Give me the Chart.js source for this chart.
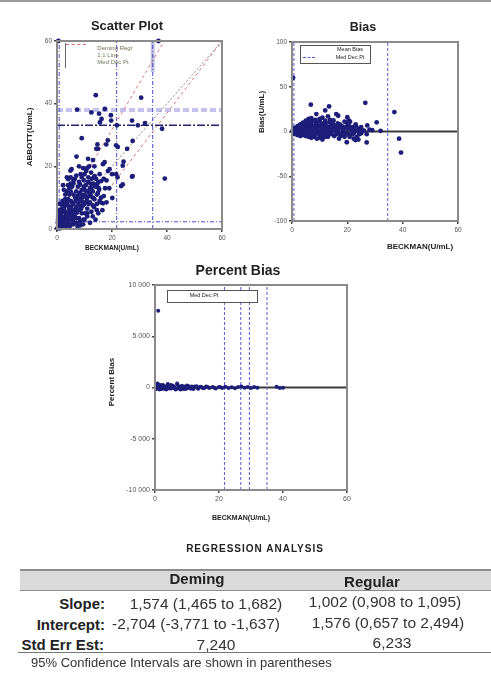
<!DOCTYPE html>
<html><head><meta charset="utf-8">
<script src="https://cdn.jsdelivr.net/npm/chart.js@4/dist/chart.umd.min.js"></script>
<style>
html,body{margin:0;padding:0;background:#fff;width:491px;height:679px;overflow:hidden;font-family:"Liberation Sans",Arial,sans-serif;color:#222;}
#root{position:relative;width:491px;height:679px;}
canvas{position:absolute;}
.c{position:absolute;transform:translate(-50%,-50%);white-space:nowrap;line-height:1;}
.r{position:absolute;transform:translate(-100%,-50%);white-space:nowrap;line-height:1;}
.rot{position:absolute;transform:translate(-50%,-50%) rotate(-90deg);white-space:nowrap;line-height:1;}
.hl{position:absolute;height:0;}
</style></head>
<body><div id="root">
<div class="hl" style="left:0;top:0;width:491px;border-top:2px solid #9a9a9a"></div>

<canvas id="cScatter" width="250" height="260" style="left:0;top:0;width:250px;height:260px"></canvas>
<canvas id="cBias" width="241" height="260" style="left:250px;top:0;width:241px;height:260px"></canvas>
<canvas id="cPct" width="260" height="250" style="left:100px;top:275px;width:260px;height:250px"></canvas>

<div class="c" style="left:127px;top:25px;font-size:13px;font-weight:bold">Scatter Plot</div>
<div class="c" style="left:363px;top:27px;font-size:12.5px;font-weight:bold">Bias</div>
<div class="c" style="left:238px;top:270px;font-size:14px;font-weight:bold">Percent Bias</div>

<div class="rot" style="left:30px;top:137px;font-size:8px;font-weight:bold">ABBOTT(U/mL)</div>
<div class="c" style="left:112px;top:248px;font-size:6.5px;font-weight:bold">BECKMAN(U/mL)</div>
<div class="rot" style="left:262px;top:112px;font-size:8px;font-weight:bold">Bias(U/mL)</div>
<div class="c" style="left:420px;top:247px;font-size:8px;font-weight:bold">BECKMAN(U/mL)</div>
<div class="rot" style="left:112px;top:382px;font-size:8px;font-weight:bold">Percent Bias</div>
<div class="c" style="left:241px;top:517px;font-size:7px;font-weight:bold">BECKMAN(U/mL)</div>

<!-- scatter legend -->
<div class="hl" style="left:66px;top:44px;width:20px;border-top:1px dashed #e06a6a"></div>
<div style="position:absolute;left:65px;top:43px;width:0;height:25px;border-left:1px solid #666"></div>
<div class="c" style="left:115px;top:48px;font-size:6px;color:#7a6a55">Deming Regr</div>
<div class="c" style="left:108px;top:55px;font-size:6px;color:#7a7a55">1:1 Line</div>
<div class="c" style="left:113px;top:62px;font-size:6px;color:#6a7a55">Med Dec Pt</div>

<!-- bias legend -->
<div style="position:absolute;left:300px;top:45px;width:69px;height:17px;border:1px solid #555;background:#fff"></div>
<div class="c" style="left:350px;top:49.5px;font-size:5.5px">Mean Bias</div>
<div class="hl" style="left:303px;top:57px;width:12px;border-top:1px dashed #5a5ad0"></div>
<div class="c" style="left:350px;top:57.5px;font-size:5.5px">Med Dec Pt</div>

<!-- percent legend -->
<div style="position:absolute;left:167px;top:290px;width:89px;height:11px;border:1px solid #555;background:#fff"></div>
<div class="c" style="left:204px;top:296px;font-size:5.5px">Med Dec Pt</div>

<!-- table -->
<div class="c" style="left:255px;top:549px;font-size:10px;font-weight:bold;letter-spacing:1px">REGRESSION ANALYSIS</div>
<div style="position:absolute;left:20px;top:569px;width:471px;height:19px;background:#dadada;border-top:2px solid #8c8c8c;border-bottom:1px solid #8c8c8c"></div>
<div class="c" style="left:197px;top:578px;font-size:15px;font-weight:bold">Deming</div>
<div class="c" style="left:372px;top:581px;font-size:15px;font-weight:bold">Regular</div>
<div class="r" style="left:105px;top:603px;font-size:15px;font-weight:bold">Slope:</div>
<div class="r" style="left:105px;top:624px;font-size:15px;font-weight:bold">Intercept:</div>
<div class="r" style="left:104px;top:644px;font-size:15px;font-weight:bold">Std Err Est:</div>
<div class="c" style="left:206px;top:604px;font-size:15.5px;color:#333">1,574 (1,465 to 1,682)</div>
<div class="c" style="left:196px;top:624px;font-size:15.5px;color:#333">-2,704 (-3,771 to -1,637)</div>
<div class="c" style="left:216px;top:645px;font-size:15.5px;color:#333">7,240</div>
<div class="c" style="left:385px;top:602px;font-size:15.5px;color:#333">1,002 (0,908 to 1,095)</div>
<div class="c" style="left:388px;top:623px;font-size:15.5px;color:#333">1,576 (0,657 to 2,494)</div>
<div class="c" style="left:392px;top:643px;font-size:15.5px;color:#333">6,233</div>
<div class="hl" style="left:18px;top:652px;width:473px;border-top:1px solid #777"></div>
<div style="position:absolute;left:31px;top:656px;font-size:13px;color:#333;white-space:nowrap;line-height:14px">95% Confidence Intervals are shown in parentheses</div>
</div>

<script>
// ---------- DATA ----------
const xTicks = [0, 20, 40, 60];
const scatterTicks = [0, 20, 40, 60];
const biasTicks = [-100, -50, 0, 50, 100];
const pctTicks = [-10000, -5000, 0, 5000, 10000];

// Scatter: BECKMAN (x) vs ABBOTT (y), U/mL
const scatterBeckman = [0.3,0.5,0.8,1.0,1.2,1.5,1.8,2.0,2.2,2.5,2.8,3.0,3.2,3.5,3.8,4.0,4.2,4.5,4.8,5.0,5.2,5.5,5.8,6.0,6.2,6.5,6.8,7.0,7.2,7.5,7.8,8.0,8.2,8.5,8.8,9.0,9.2,9.5,9.8,10.0,10.2,10.5,10.8,11.0,11.3,11.5,12.0,12.3,12.6,13.0,13.3,13.6,14.0,14.5,15.0,15.3,0.5,1.0,1.5,2.0,2.5,3.0,3.5,4.0,4.5,5.0,5.5,6.0,6.5,7.0,3.0,2.0,1.0,0.5,4.0,2.5,5.0,8.0,9.0,10.0,1.2,2.4,3.6,4.8,6.0,7.2,8.4,9.6,11.0,12.5,13.5,0.2,0.6,0.9,1.4,1.7,2.1,2.6,3.3,3.9,4.3,4.9,5.6,6.4,7.4,8.6,9.4,10.6,11.8,12.8,14.2,15.5,0.4,1.1,16.0,17.5,18.0,15.8,
  10,11,12,13,14,14.5,13,12,11,10,9,8,7,6,5,4,3,2,9.5,8.5,7.5,15,15.5,14.5,13,12,11,10,9,8,7,6,5,4,3,2,1.5,1,0.5,0.8,1.3,2.3,3.4,4.4,5.4,6.6,7.6,8.4,9.8,11.4,12.2,13.4,14.6,15.2,6,5,4.5,3.5,3,2.5,2,1.5,0.5,1,0.3,12.4,10.6,3.6,2.2,17,16.5,18,17,19,
  0.5,36.9,14.1,7.3,12.5,15.3,16.2,17.4,19.6,19.7,15.6,21.8,30.6,27.3,29.4,32.0,38.2,39.2,9.0,14.7,14.9,17.9,18.5,22.1,25.5,27.5,24.2,27.3,23.9,20.1,7.1,13.1,11.7,9.5,8.6,4.9,16.7,18.5,20.0,22.0,14.3,11.3,8.0,11.0,13.6,17.3,19.1,21.5,23.9,27.5,23.3,5.3,4.1,13.7,16.1,12.5,14.9,16.7,21.5];
const scatterAbbott = [0.5,1.0,0.4,1.5,0.8,2.0,1.2,2.5,0.9,3.0,1.8,4.0,2.2,3.5,1.5,5.0,2.8,4.2,6.0,3.2,7.0,5.0,2.5,8.0,6.0,4.0,9.0,7.0,5.2,10.5,8.0,3.5,11.5,9.0,6.5,12.5,10.0,7.5,13.5,11.0,5.0,14.0,9.0,12.0,15.0,8.0,13.0,10.5,16.0,12.0,14.5,9.5,13.5,11.0,15.0,12.5,2.5,3.5,4.5,5.5,6.5,7.5,8.5,9.5,11.0,12.0,13.5,14.5,16.0,17.0,11.0,9.0,6.0,4.0,14.0,12.5,16.5,15.0,16.5,17.5,0.2,0.5,0.7,1.0,1.5,2.0,2.5,3.0,4.0,5.5,7.0,0.2,0.8,1.8,1.0,2.6,1.6,2.2,3.0,2.4,3.6,4.4,3.8,5.4,6.2,7.2,8.6,10.2,11.4,13.8,16.0,17.5,3.0,2.2,10.0,13.0,15.5,8.5,
  3,5,2,4,3,6,7.5,8.5,6.5,8,5,6,3.5,2,1.5,0.5,1,1.2,1.5,1.2,0.8,5,9,8,10,11,10,12.5,11,9.5,12,11,9,7.5,5.5,3.8,3,1,0.3,2,0.5,2.8,4.6,6.4,8.4,10,13.5,14.2,15.5,16.5,14.5,16.5,14.2,13,15.5,14.5,13,12,9.5,8,7,5.5,5,8,2,18,18.5,16.5,14,10.5,6,8.5,16,13,
  60,60,42.7,38.1,37.2,36.8,35.1,38.3,36.3,34.6,34.0,33.1,41.9,34.6,33.1,33.8,32.0,16.1,29.0,27.0,25.6,27.0,28.3,26.2,25.6,28.1,21.5,16.7,14.2,9.9,23.1,22.0,20.0,19.4,17.5,18.6,20.7,18.5,17.5,16.5,25.6,22.4,20.0,19.5,20.0,21.3,19.1,17.5,20.2,16.9,13.7,19.1,15.9,16.9,15.3,12.6,11.5,8.2,26.7];

// Reference lines on scatter plot (x,y end points)
const demingLine = [[0, 2], [39, 60]];
const secondRedLine = [[20, 14], [60, 60]];
const identityLine = [[0, 0], [60, 60]];
const medDecPtScatterX = [0.8, 21.7, 34.8];
const medDecPtScatterY = [2.3, 38.0];
const horizontalSolidY = 33.1;

// Bias: BECKMAN (x) vs Bias (U/mL)
const biasBeckman = [0.4,6.8,13.4,12,8.8,16,16.7,20,20.5,26.5,30.6,27.2,37,38.7,39.4,19.8,27,22.9,13,32,29,
  0.5,1,1.5,2,2.5,3,3.5,4,4.5,5,5.5,6,6.5,7,7.5,8,8.5,9,9.5,10,10.5,11,11.5,12,12.5,13,13.5,14,14.5,15,15.5,16,16.5,17,17.5,18,18.5,19,19.5,20,20.5,21,21.5,22,22.5,23,23.5,24,24.5,25,26,27,28,1,2,3,4,5,6,7,3,4,5,6,7,8,9,10,11,12,1.5,2.5,3.5,0.8,1.8,2.8,4.8,6.8,8.8,10.8,12.8,14.8,16.8,18.8,20.8,9,11,13,10,7,8,12,0.3,0.7,1.2,1.6,2.2,2.6,3.2,
  0.2,0.4,0.6,0.9,1.1,1.3,1.7,1.9,2.1,2.3,2.7,2.9,3.3,3.7,3.9,4.1,4.3,4.7,5.3,5.7,5.9,6.3,6.7,7.3,7.7,8.3,8.7,9.3,9.7,10.3,10.7,11.3,11.7,12.3,12.7,13.3,13.7,14.3,14.7,15.3,15.7,16.3,17.3,17.7,18.3,19.3,20.3,21.3,22.3,23.3,24.3,25.5,2,3,5,1,6,7,8,9,10,11,12,13,14,15,16,17,18,19,20,21,22,23,24,25];
const biasValue = [60,30,28,23.5,19.5,19.5,17.6,16,12.5,32,10.2,6.8,21.7,-8,-23.6,-12,-12.2,-9.5,-6,0.8,1.5,
  0.5,1.5,-0.5,2.5,0,3.5,-1,5,1,7,-2,9,2,11,-3,4,13,0,6,14,-4,8,2,12,-2,5,10,-1,7,12.5,3,-3,9,4,-5,6,1,11,-2,3,7,-4,1,5,-1,2,-6,0,3,-2,1,-3,2,4,6,8,10,12,14,15,-3,-4,-5,-6,-7,-6,-8,-7,-5,-6,3,4.5,6,-1,-2,-1.5,-2.5,-3.5,-2,-1,1,3,-1,-3,-6,10,15.5,17,11.5,8,12,9,1,2,-1,3,0,-2,1,
  0.3,-0.5,1,-1.2,2,-0.3,0.8,-1.5,1.2,-2.5,2,-0.8,1,-2,3,0,-1.5,2.5,0.5,4,-1,6,-2,3,5.5,-1,8,3,-3,5,9,-2,4,6,-4,2,13,-3,9,-5,6,1,8,-2,3,5,-3,4,-8,5,-3,1,-4,-5,-3,-3,4,1,-4,4,2,-9,0,-3,5,1,4,-8,-4,-6,9,11,-3,8,-9,5];

// Mean bias and decision points on bias plot
const meanBias = 0;
const medDecPtBiasX = [0.7, 34.6];

// Percent bias: BECKMAN (x) vs Percent Bias
const pctBeckman = [1,0.3,0.6,1,1.5,2,2.5,3,3.5,4,4.5,5,5.5,6,6.5,7,7.5,8,8.5,9,9.5,10,10.5,11,11.5,12,12.5,13,13.5,14,15,16,17,18,19,20,21,22,23,24,25,26,27,28,29,30,31,32,38,39,40,1.2,2.2,3.2,4.2,5.2,6.2,7.2,8.2,0.8,1.8,2.8,
  0.4,0.9,1.4,1.9,2.4,2.9,3.4,3.9,4.4,4.9,5.4,5.9,6.4,6.9,7.4,7.9,8.4,8.9,9.4,9.9,10.4,11.4,12.4,13.4,14.4,15.4,16.5,18.5,20.5];
const pctValue = [7500,200,-100,300,100,-150,250,50,-200,350,150,-100,200,0,-150,300,100,-200,150,50,-150,200,0,-100,100,-150,50,120,-120,60,-80,100,-50,40,-90,60,-40,80,-60,30,-70,50,100,-30,60,-50,40,-20,80,-40,-20,0,100,-50,50,100,-50,-100,0,400,150,-100,
  -150,150,-200,250,-100,150,-150,200,-100,250,-50,100,-200,400,0,-100,150,-150,100,-100,150,-100,100,-80,80,-60,60,-30,20];
const meanPctBias = 0;
const medDecPtPctX = [21.7, 26.8, 29.5, 35.0];

// ---------- CHART HELPERS ----------
const FONT = '"Liberation Sans", Arial, sans-serif';
const NAVY = '#1d1d7a';
const zip = (xs, ys) => xs.map((x, i) => ({x: x, y: ys[i]}));
const seg = (p) => p.map(q => ({x: q[0], y: q[1]}));

function axis(min, max, ticksArr, fmt, size, isY, fsize) {
  return {
    type: 'linear', min: min, max: max,
    afterBuildTicks(s) { s.ticks = ticksArr.map(v => ({value: v})); },
    ticks: {color: '#555', font: {size: fsize, family: FONT}, padding: 2, autoSkip: false, maxRotation: 0,
      callback: fmt || (v => String(v))},
    grid: {display: true, drawOnChartArea: false, drawTicks: true, tickLength: 3, color: '#444', lineWidth: 1.5},
    border: {display: true, color: '#8a8a8a', width: 2},
    afterFit(s) { if (isY) s.width = size; else s.height = size; }
  };
}
const frame = {id: 'frame', afterDraw(c) {
  const a = c.chartArea, ctx = c.ctx; ctx.save();
  ctx.strokeStyle = '#8a8a8a'; ctx.lineWidth = 2;
  ctx.strokeRect(a.left, a.top, a.right - a.left, a.bottom - a.top); ctx.restore();
}};
function lineDs(pts, color, width, dash, order) {
  return {type: 'scatter', data: seg(pts), showLine: true, borderColor: color, borderWidth: width,
    borderDash: dash, pointRadius: 0, pointHoverRadius: 0, fill: false, order: order || 2};
}
function pointDs(xs, ys, r) {
  return {type: 'scatter', data: zip(xs, ys), backgroundColor: NAVY, borderColor: NAVY, borderWidth: 0,
    pointRadius: r, showLine: false, order: 0, clip: false};
}
const baseOpts = (pad) => ({
  responsive: false, animation: false, devicePixelRatio: 1,
  layout: {padding: pad},
  plugins: {legend: {display: false}, title: {display: false}, tooltip: {enabled: false}},
  events: []
});
const thousands = v => { const s = Math.abs(v).toString(); const t = s.length > 3 ? s.slice(0, -3) + ' ' + s.slice(-3) : s; return (v < 0 ? '-' : '') + t; };

// ---------- SCATTER ----------
{
  const ds = [];
  ds.push(lineDs([[0, medDecPtScatterY[1]], [60, medDecPtScatterY[1]]], 'rgba(170,170,230,0.7)', 4, [6, 3], 3));
  ds.push(lineDs([[medDecPtScatterX[2], 50], [medDecPtScatterX[2], 60]], 'rgba(180,180,215,0.8)', 4, [], 3));
  medDecPtScatterX.forEach(x => ds.push(lineDs([[x, 0], [x, 60]], '#4a4ac8', 1, [4, 2, 1, 2])));
  ds.push(lineDs([[0, medDecPtScatterY[0]], [60, medDecPtScatterY[0]]], '#4a4ac8', 1, [4, 2, 1, 2]));
  ds.push(lineDs([[0, horizontalSolidY], [60, horizontalSolidY]], '#22226a', 1.5, [8, 2, 2, 2]));
  ds.push(lineDs(identityLine, '#8a8a8a', 1, [2, 2]));
  ds.push(lineDs(demingLine, '#e07070', 1, [3, 3]));
  ds.push(lineDs(secondRedLine, '#e07070', 1, [3, 3]));
  ds.push(pointDs(scatterBeckman, scatterAbbott, 2.4));
  const o = baseOpts({left: 0, top: 41, right: 28, bottom: 0});
  o.scales = {x: axis(0, 60, xTicks, null, 31, false, 6.5), y: axis(0, 60, scatterTicks, null, 57, true, 6.5)};
  new Chart(document.getElementById('cScatter'), {type: 'scatter', data: {datasets: ds}, options: o, plugins: [frame]});
}

// ---------- BIAS ----------
{
  const ds = [];
  medDecPtBiasX.forEach(x => ds.push(lineDs([[x, -100], [x, 100]], '#5a5ad0', 1, [3, 2])));
  ds.push(lineDs([[0, meanBias], [60, meanBias]], '#3a3a3a', 2, []));
  ds.push(pointDs(biasBeckman, biasValue, 2.4));
  const o = baseOpts({left: 0, top: 42, right: 33, bottom: 0});
  o.scales = {x: axis(0, 60, xTicks, null, 39, false, 6.5), y: axis(-100, 100, biasTicks, null, 42, true, 6.5)};
  new Chart(document.getElementById('cBias'), {type: 'scatter', data: {datasets: ds}, options: o, plugins: [frame]});
}

// ---------- PERCENT BIAS ----------
{
  const ds = [];
  medDecPtPctX.forEach(x => ds.push(lineDs([[x, -10000], [x, 10000]], '#5a5ad0', 1, [3, 2])));
  ds.push(lineDs([[0, meanPctBias], [60, meanPctBias]], '#3a3a3a', 2, []));
  ds.push(pointDs(pctBeckman, pctValue, 2));
  const o = baseOpts({left: 0, top: 10, right: 13, bottom: 0});
  o.scales = {x: axis(0, 60, xTicks, null, 35, false, 7), y: axis(-10000, 10000, pctTicks, thousands, 55, true, 7)};
  new Chart(document.getElementById('cPct'), {type: 'scatter', data: {datasets: ds}, options: o, plugins: [frame]});
}
</script>
</body></html>
